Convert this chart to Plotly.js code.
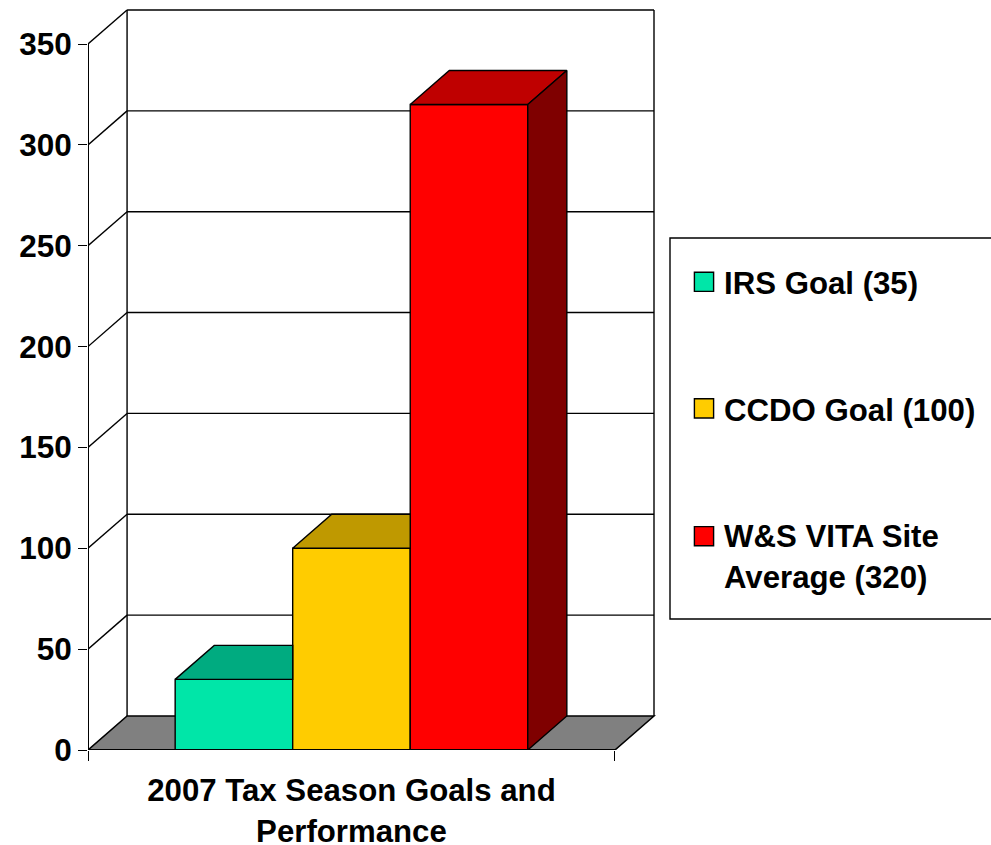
<!DOCTYPE html>
<html>
<head>
<meta charset="utf-8">
<script src="https://cdn.plot.ly/plotly-3.0.1.min.js"></script>
<style>html,body{margin:0;padding:0;background:#fff}#chart{width:991px;height:845px}</style>
</head>
<body>
<div id="chart"></div>
<script>
// ---- data ----
const seriesNames = ["IRS Goal (35)", "CCDO Goal (100)", "W&S VITA Site<br>Average (320)"];
const seriesValues = [35, 100, 320];
const tickValues = [0, 50, 100, 150, 200, 250, 300, 350];
const categoryLabel = "2007 Tax Season Goals and<br>Performance";
const frontColors = ["#00E6A8", "#FFCC00", "#FF0000"];
const topColors = ["#00AB80", "#BF9900", "#BF0000"];
const sideColors = ["#00805E", "#7F6600", "#7F0000"];

// ---- oblique projection, in axis units ----
const barWidth = 1;
const depthX = 0.3324, depthY = 16.86;
const frontLeft = -1.2415, frontRight = 3.2415, backRight = frontRight + depthX;
const yMax = tickValues[tickValues.length - 1];
const ink = "#000";
const font = "Liberation Sans, Arial, sans-serif";
const strokeW = 1.4;

const W = 991, H = 845, mL = 88, mR = 335, mT = 8, mB = 95;
const xRangeTop = backRight + 2 / 117.33;
const yRangeTop = yMax + depthY + 2 / 2.017;
const px = v => (v - mL) / (W - mL - mR);
const py = v => 1 - (v - mT) / (H - mT - mB);

const traces = [];
// front faces: native bars
seriesValues.forEach((v, i) => traces.push({
  type: "bar", x: [i], y: [v], width: barWidth, name: seriesNames[i],
  marker: {color: frontColors[i], line: {color: ink, width: strokeW}},
  legendgroup: "g" + i, hovertemplate: seriesNames[i].replace("<br>", " ") + "<extra></extra>"
}));
// top faces, hidden part cut off at the next bar's front
seriesValues.forEach((v, i) => {
  const l = i - barWidth / 2, r = i + barWidth / 2;
  const last = i === seriesValues.length - 1;
  const xs = last ? [l, r, r + depthX, l + depthX, l] : [l, r, r, l + depthX, l];
  const ys = [v, v, v + depthY, v + depthY, v];
  traces.push({type: "scatter", mode: "lines", x: xs, y: ys, fill: "toself", fillcolor: topColors[i],
    line: {color: ink, width: strokeW}, showlegend: false, hoverinfo: "skip"});
  if (last) {
    traces.push({type: "scatter", mode: "lines",
      x: [r, r + depthX, r + depthX, r, r], y: [0, depthY, v + depthY, v, 0],
      fill: "toself", fillcolor: sideColors[i],
      line: {color: ink, width: strokeW}, showlegend: false, hoverinfo: "skip"});
  }
});
// axis lines on the front plane
traces.push({type: "scatter", mode: "lines", x: [frontLeft, frontLeft, frontRight], y: [yMax, 0, 0],
  line: {color: ink, width: 2}, cliponaxis: false, showlegend: false, hoverinfo: "skip"});

// walls, floor and gridlines behind the bars
const shapes = [];
const ln = {color: ink, width: strokeW};
shapes.push({type: "path", layer: "below", xref: "x", yref: "y", fillcolor: "#808080", line: {color: ink, width: 1.6},
  path: `M${frontLeft},0 L${frontLeft + depthX},${depthY} L${backRight},${depthY} L${frontRight},0 Z`});
tickValues.slice(1).forEach(t => {
  shapes.push({type: "line", layer: "below", xref: "x", yref: "y", line: ln,
    x0: frontLeft + depthX, x1: backRight, y0: t + depthY, y1: t + depthY});
  shapes.push({type: "line", layer: "below", xref: "x", yref: "y", line: ln,
    x0: frontLeft, x1: frontLeft + depthX, y0: t, y1: t + depthY});
});
[frontLeft + depthX, backRight].forEach(x => shapes.push({type: "line", layer: "below", xref: "x", yref: "y", line: ln,
  x0: x, x1: x, y0: depthY, y1: yMax + depthY}));
// legend box
shapes.push({type: "rect", xref: "paper", yref: "paper", line: {color: ink, width: strokeW}, fillcolor: "#fff", layer: "below",
  x0: px(670), x1: px(995), y0: py(238), y1: py(619)});

const layout = {
  width: W, height: H, paper_bgcolor: "#fff", plot_bgcolor: "rgba(0,0,0,0)",
  margin: {l: mL, r: mR, t: mT, b: mB, pad: 0, autoexpand: false},
  barmode: "overlay", showlegend: true, shapes,
  font: {family: font, size: 31, color: "#000"},
  xaxis: {range: [frontLeft, xRangeTop], autorange: false, showgrid: false, zeroline: false, showline: false,
    tickmode: "array", tickvals: [1], ticktext: [categoryLabel], ticks: "", ticklabelstandoff: 19,
    tickfont: {family: font, size: 31.2, weight: "bold"},
    minor: {tickmode: "array", tickvals: [frontLeft, frontRight], ticks: "outside", ticklen: 10, tickwidth: strokeW, tickcolor: ink, showgrid: false}},
  yaxis: {range: [0, yRangeTop], autorange: false, showgrid: false, zeroline: false, showline: false,
    tickmode: "array", tickvals: tickValues, ticktext: tickValues.map(String), ticks: "outside", ticklen: 9, tickwidth: strokeW, tickcolor: ink,
    tickfont: {family: font, size: 31.5, weight: "bold"}},
  legend: {x: px(684), y: py(255), xanchor: "left", yanchor: "top", bgcolor: "rgba(0,0,0,0)", borderwidth: 0,
    tracegroupgap: 83, itemwidth: 30, itemclick: false, itemdoubleclick: false,
    font: {family: font, size: 31.2, weight: "bold", color: "#000"}}
};

Plotly.newPlot("chart", traces, layout, {displayModeBar: false}).then(() => {
  const swatches = document.querySelectorAll(".legend .legendsymbols path");
  swatches.forEach((p, i) => {
    const lift = i === swatches.length - 1 ? "translate(0,-19) " : "";
    p.setAttribute("transform", lift + (p.getAttribute("transform") || "") + " scale(1.6)");
    p.style.vectorEffect = "non-scaling-stroke";
  });
});
</script>
</body>
</html>
